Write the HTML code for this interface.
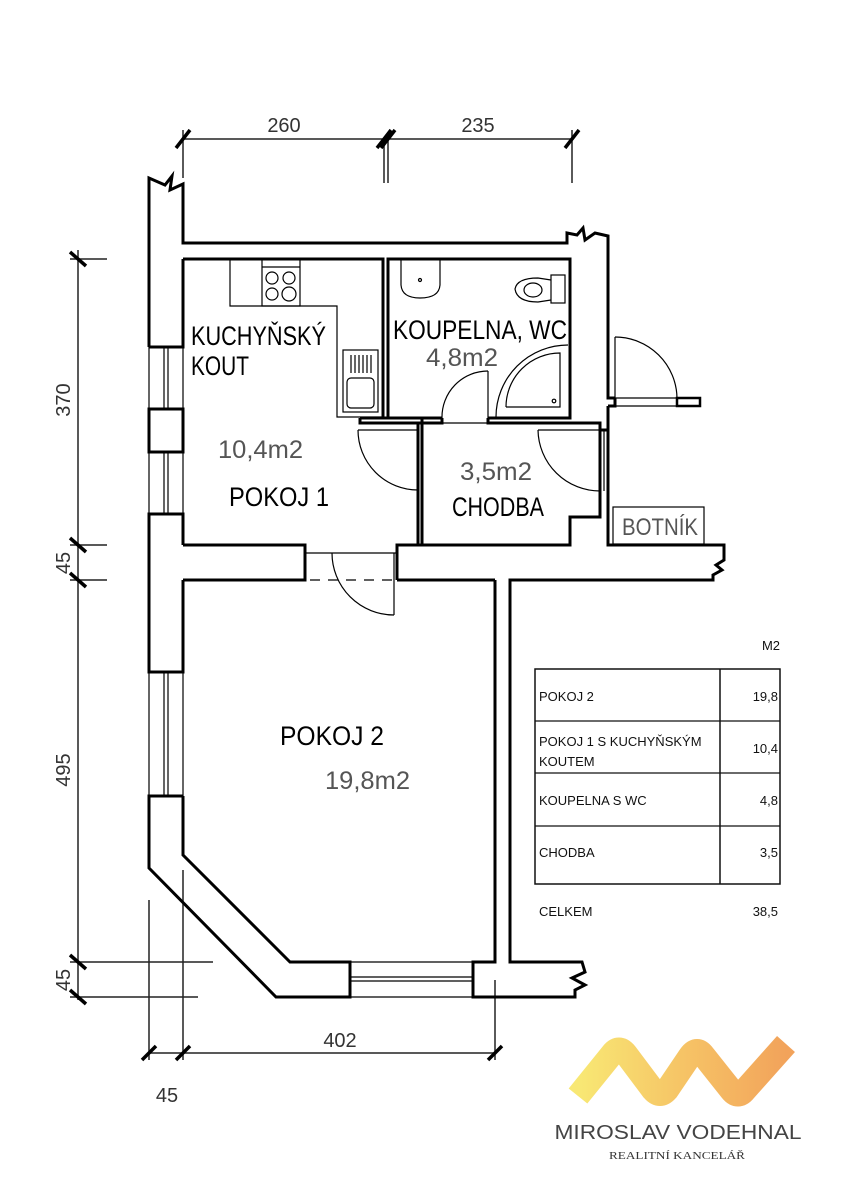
<!DOCTYPE html>
<html><head><meta charset="utf-8"><style>
html,body{margin:0;padding:0;background:#fff;}
svg{display:block}
.w{fill:none;stroke:#000;stroke-width:3;stroke-linejoin:miter}
.t{fill:none;stroke:#000;stroke-width:1.2}
.m{fill:none;stroke:#222;stroke-width:1.5}
.tk{stroke:#000;stroke-width:3.5}
.lab{font-family:"Liberation Sans Narrow","Liberation Sans",sans-serif;fill:#000}
.ar{font-family:"Liberation Sans Narrow","Liberation Sans",sans-serif;fill:#555}
.dm{font-family:"Liberation Sans Narrow","Liberation Sans",sans-serif;fill:#333;font-size:20px}
.tb{font-family:"Liberation Sans",sans-serif;fill:#111;font-size:13px}
</style></head><body>
<svg width="846" height="1200" viewBox="0 0 846 1200" xmlns="http://www.w3.org/2000/svg">
<defs><linearGradient id="g" x1="0" x2="1" y1="0" y2="0"><stop offset="0" stop-color="#f8e874"/><stop offset="0.5" stop-color="#f6c466"/><stop offset="1" stop-color="#f2a35b"/></linearGradient></defs>

<line class="m" x1="183" y1="139" x2="572" y2="139"/>
<line class="m" x1="183" y1="130" x2="183" y2="178"/>
<line class="m" x1="384" y1="139" x2="384" y2="183"/>
<line class="m" x1="388" y1="139" x2="388" y2="183"/>
<line class="m" x1="572" y1="130" x2="572" y2="183"/>
<line class="tk" x1="176" y1="148" x2="190" y2="130"/>
<line class="tk" x1="377" y1="148" x2="391" y2="130"/>
<line class="tk" x1="381" y1="148" x2="395" y2="130"/>
<line class="tk" x1="565" y1="148" x2="579" y2="130"/>
<text class="dm" x="284" y="132" text-anchor="middle">260</text>
<text class="dm" x="478" y="132" text-anchor="middle">235</text>

<line class="m" x1="78" y1="250" x2="78" y2="1000"/>
<line class="m" x1="70" y1="259" x2="107" y2="259"/>
<line class="m" x1="70" y1="545" x2="107" y2="545"/>
<line class="m" x1="70" y1="580" x2="107" y2="580"/>
<line class="m" x1="70" y1="962" x2="213" y2="962"/>
<line class="m" x1="70" y1="997" x2="198" y2="997"/>
<line class="tk" x1="70" y1="252" x2="86" y2="266"/>
<line class="tk" x1="70" y1="538" x2="86" y2="552"/>
<line class="tk" x1="70" y1="573" x2="86" y2="587"/>
<line class="tk" x1="70" y1="955" x2="86" y2="969"/>
<line class="tk" x1="70" y1="990" x2="86" y2="1004"/>
<text class="dm" transform="translate(70,400) rotate(-90)" text-anchor="middle">370</text>
<text class="dm" transform="translate(70,563) rotate(-90)" text-anchor="middle">45</text>
<text class="dm" transform="translate(70,770) rotate(-90)" text-anchor="middle">495</text>
<text class="dm" transform="translate(70,980) rotate(-90)" text-anchor="middle">45</text>

<line class="m" x1="149" y1="1053" x2="495" y2="1053"/>
<line class="m" x1="149" y1="900" x2="149" y2="1060"/>
<line class="m" x1="183" y1="870" x2="183" y2="1060"/>
<line class="m" x1="495" y1="980" x2="495" y2="1060"/>
<line class="tk" x1="142" y1="1060" x2="156" y2="1046"/>
<line class="tk" x1="176" y1="1060" x2="190" y2="1046"/>
<line class="tk" x1="488" y1="1060" x2="502" y2="1046"/>
<text class="dm" x="340" y="1047" text-anchor="middle">402</text>
<text class="dm" x="167" y="1102" text-anchor="middle">45</text>

<path class="w" d="M149,347 L149,178 L165,185 L172,176 L170,190 L183,184 L183,243 L567,243 L567,233 L577,235 L583,228 L585,240 L595,233 L608,236 L608,398 L615,398"/>
<path class="w" d="M183,259 L183,347 L149,347"/>
<line class="t" x1="149" y1="347" x2="149" y2="409"/><line class="t" x1="183" y1="347" x2="183" y2="409"/>
<line class="t" x1="164" y1="347" x2="164" y2="409"/><line class="t" x1="168" y1="347" x2="168" y2="409"/>
<rect class="w" x="149" y="409" width="34" height="43"/>
<line class="t" x1="149" y1="452" x2="149" y2="514"/><line class="t" x1="183" y1="452" x2="183" y2="514"/>
<line class="t" x1="164" y1="452" x2="164" y2="514"/><line class="t" x1="168" y1="452" x2="168" y2="514"/>
<path class="w" d="M183,545 L183,514 L149,514 L149,672 L183,672 L183,580"/>
<line class="t" x1="149" y1="672" x2="149" y2="796"/><line class="t" x1="183" y1="672" x2="183" y2="796"/>
<line class="t" x1="164" y1="672" x2="164" y2="796"/><line class="t" x1="168" y1="672" x2="168" y2="796"/>
<path class="w" d="M183,796 L149,796 L149,868 L276,997 L350,997 L350,962 L290,962 L183,855 L183,796"/>
<line class="t" x1="350" y1="962" x2="473" y2="962"/><line class="t" x1="350" y1="997" x2="473" y2="997"/>
<line class="t" x1="350" y1="977" x2="473" y2="977"/><line class="t" x1="350" y1="981" x2="473" y2="981"/>
<path class="w" d="M495,580 L495,962 L473,962 L473,997 L575,997 L575,990 L585,985 L572,978 L585,972 L582,962 L510,962 L510,580 L713,580 L713,575 L722,570 L716,565 L724,560 L724,545 L608,545 L608,406"/>
<path class="w" d="M183,545 L305,545 L305,580 L183,580"/>
<path class="w" d="M397,580 L397,545 L570,545 L570,517 L600,517 L600,491"/>
<path class="w" d="M397,580 L495,580"/>
<line class="t" x1="305" y1="553" x2="397" y2="553"/>
<line x1="310" y1="580" x2="394" y2="580" stroke="#000" stroke-width="1.2" stroke-dasharray="10,8"/>
<line class="t" x1="394" y1="553" x2="394" y2="615"/>
<path class="t" d="M332,553 A62,62 0 0 0 394,615"/>
<path class="w" d="M183,259 L383,259 L383,418"/>
<path class="w" d="M360,418 L422,418 L422,545 M418,423 L418,545"/>
<path class="w" d="M360,418 L360,423 L422,423"/>
<path class="t" d="M230,259 L230,306 L337,306 L337,417 L383,417"/>
<rect class="t" x="262" y="259" width="38" height="47"/><line class="t" x1="262" y1="267" x2="300" y2="267"/>
<circle class="t" cx="272" cy="278" r="6"/><circle class="t" cx="289" cy="278" r="6"/>
<circle class="t" cx="272" cy="294" r="6"/><circle class="t" cx="289" cy="294" r="7"/>
<rect class="t" x="343" y="350" width="35" height="62"/>
<rect class="t" x="347" y="378" width="27" height="30" rx="4"/>
<path class="t" d="M351,355v18M355,355v18M359,355v18M363,355v18M367,355v18M371,355v18"/>
<line class="t" x1="358" y1="430" x2="418" y2="430"/>
<path class="t" d="M358,430 A60,60 0 0 0 418,490"/>
<path class="w" d="M442,418 L388,418 L388,259 L570,259 L570,418 L488,418"/>
<path class="w" d="M422,423 L442,423 L442,418 M488,418 L488,423 L600,423 L600,430 L608,430"/>
<path class="w" d="M600,430 L600,491"/>
<path class="t" d="M401,260 L401,285 Q402,298 420,298 Q439,298 440,285 L440,260"/>
<circle class="t" cx="420" cy="280" r="1.5"/>
<rect class="t" x="551" y="275" width="14" height="28"/>
<path class="t" d="M551,280 L538,278 Q517,278 515,289 Q517,302 538,302 L551,300"/>
<ellipse class="t" cx="533" cy="290" rx="9" ry="7"/>
<path class="t" d="M496,417 A72,72 0 0 1 568,345"/>
<path class="t" d="M506,407 L560,407 L560,353 A54,54 0 0 0 506,407"/>
<circle class="t" cx="554" cy="401" r="1.8"/>
<line class="t" x1="488" y1="371" x2="488" y2="418"/>
<path class="t" d="M442,418 A46,46 0 0 1 488,371"/>
<line class="t" x1="442" y1="423" x2="488" y2="423"/>
<line class="t" x1="538" y1="430" x2="600" y2="430"/>
<path class="t" d="M538,430 A62,62 0 0 0 600,491"/>
<line class="t" x1="604" y1="430" x2="604" y2="491"/>
<line class="t" x1="615" y1="337" x2="615" y2="398"/>
<path class="t" d="M615,337 A62,62 0 0 1 677,398"/>
<rect class="w" x="677" y="398" width="23" height="8" style="stroke-width:2.5"/>
<line class="t" x1="615" y1="398" x2="677" y2="398"/>
<line class="t" x1="608" y1="406" x2="677" y2="406"/>
<path class="w" d="M608,406 L615,406 L615,398"/>
<rect class="t" x="613" y="507" width="91" height="37"/>
<text class="ar" x="622" y="535" font-size="24" textLength="76" lengthAdjust="spacingAndGlyphs">BOTNÍK</text>

<text class="lab" x="191" y="345" font-size="27" textLength="135" lengthAdjust="spacingAndGlyphs">KUCHYŇSKÝ</text>
<text class="lab" x="191" y="375" font-size="27" textLength="58" lengthAdjust="spacingAndGlyphs">KOUT</text>
<text class="ar" x="218" y="458" font-size="25" textLength="85" lengthAdjust="spacingAndGlyphs">10,4m2</text>
<text class="lab" x="229" y="506" font-size="27" textLength="100" lengthAdjust="spacingAndGlyphs">POKOJ  1</text>
<text class="lab" x="393" y="339" font-size="27" textLength="174" lengthAdjust="spacingAndGlyphs">KOUPELNA,  WC</text>
<text class="ar" x="426" y="366" font-size="25" textLength="72" lengthAdjust="spacingAndGlyphs">4,8m2</text>
<text class="ar" x="460" y="480" font-size="25" textLength="72" lengthAdjust="spacingAndGlyphs">3,5m2</text>
<text class="lab" x="452" y="516" font-size="27" textLength="92" lengthAdjust="spacingAndGlyphs">CHODBA</text>
<text class="lab" x="280" y="745" font-size="27" textLength="104" lengthAdjust="spacingAndGlyphs">POKOJ  2</text>
<text class="ar" x="325" y="789" font-size="25" textLength="85" lengthAdjust="spacingAndGlyphs">19,8m2</text>

<text class="tb" x="780" y="650" text-anchor="end">M2</text>
<rect x="535" y="669" width="245" height="215" fill="none" stroke="#111" stroke-width="1.5"/>
<line x1="720" y1="669" x2="720" y2="884" stroke="#111" stroke-width="1.5"/>
<line x1="535" y1="721" x2="780" y2="721" stroke="#111" stroke-width="1.2"/>
<line x1="535" y1="773" x2="780" y2="773" stroke="#111" stroke-width="1.2"/>
<line x1="535" y1="826" x2="780" y2="826" stroke="#111" stroke-width="1.2"/>
<text class="tb" x="539" y="701">POKOJ 2</text><text class="tb" x="778" y="701" text-anchor="end">19,8</text>
<text class="tb" x="539" y="746">POKOJ 1 S KUCHYŇSKÝM</text><text class="tb" x="539" y="766">KOUTEM</text>
<text class="tb" x="778" y="753" text-anchor="end">10,4</text>
<text class="tb" x="539" y="805">KOUPELNA S WC</text><text class="tb" x="778" y="805" text-anchor="end">4,8</text>
<text class="tb" x="539" y="857">CHODBA</text><text class="tb" x="778" y="857" text-anchor="end">3,5</text>
<text class="tb" x="539" y="916">CELKEM</text><text class="tb" x="778" y="916" text-anchor="end">38,5</text>

<path d="M578,1096 L612,1054 Q619,1045 626,1054 L653,1090 Q660,1098 667,1090 L690,1056 Q697,1046 704,1056 L731,1090 Q738,1099 745,1090 L786,1044" fill="none" stroke="url(#g)" stroke-width="24" stroke-linejoin="round" stroke-linecap="butt"/>
<text x="678" y="1139" text-anchor="middle" font-family="Liberation Sans, sans-serif" font-size="20" fill="#444" textLength="247" lengthAdjust="spacingAndGlyphs">MIROSLAV VODEHNAL</text>
<text x="677" y="1159" text-anchor="middle" font-family="Liberation Serif, serif" font-size="11" fill="#333" textLength="136" lengthAdjust="spacingAndGlyphs">REALITNÍ KANCELÁŘ</text>
</svg>
</body></html>
